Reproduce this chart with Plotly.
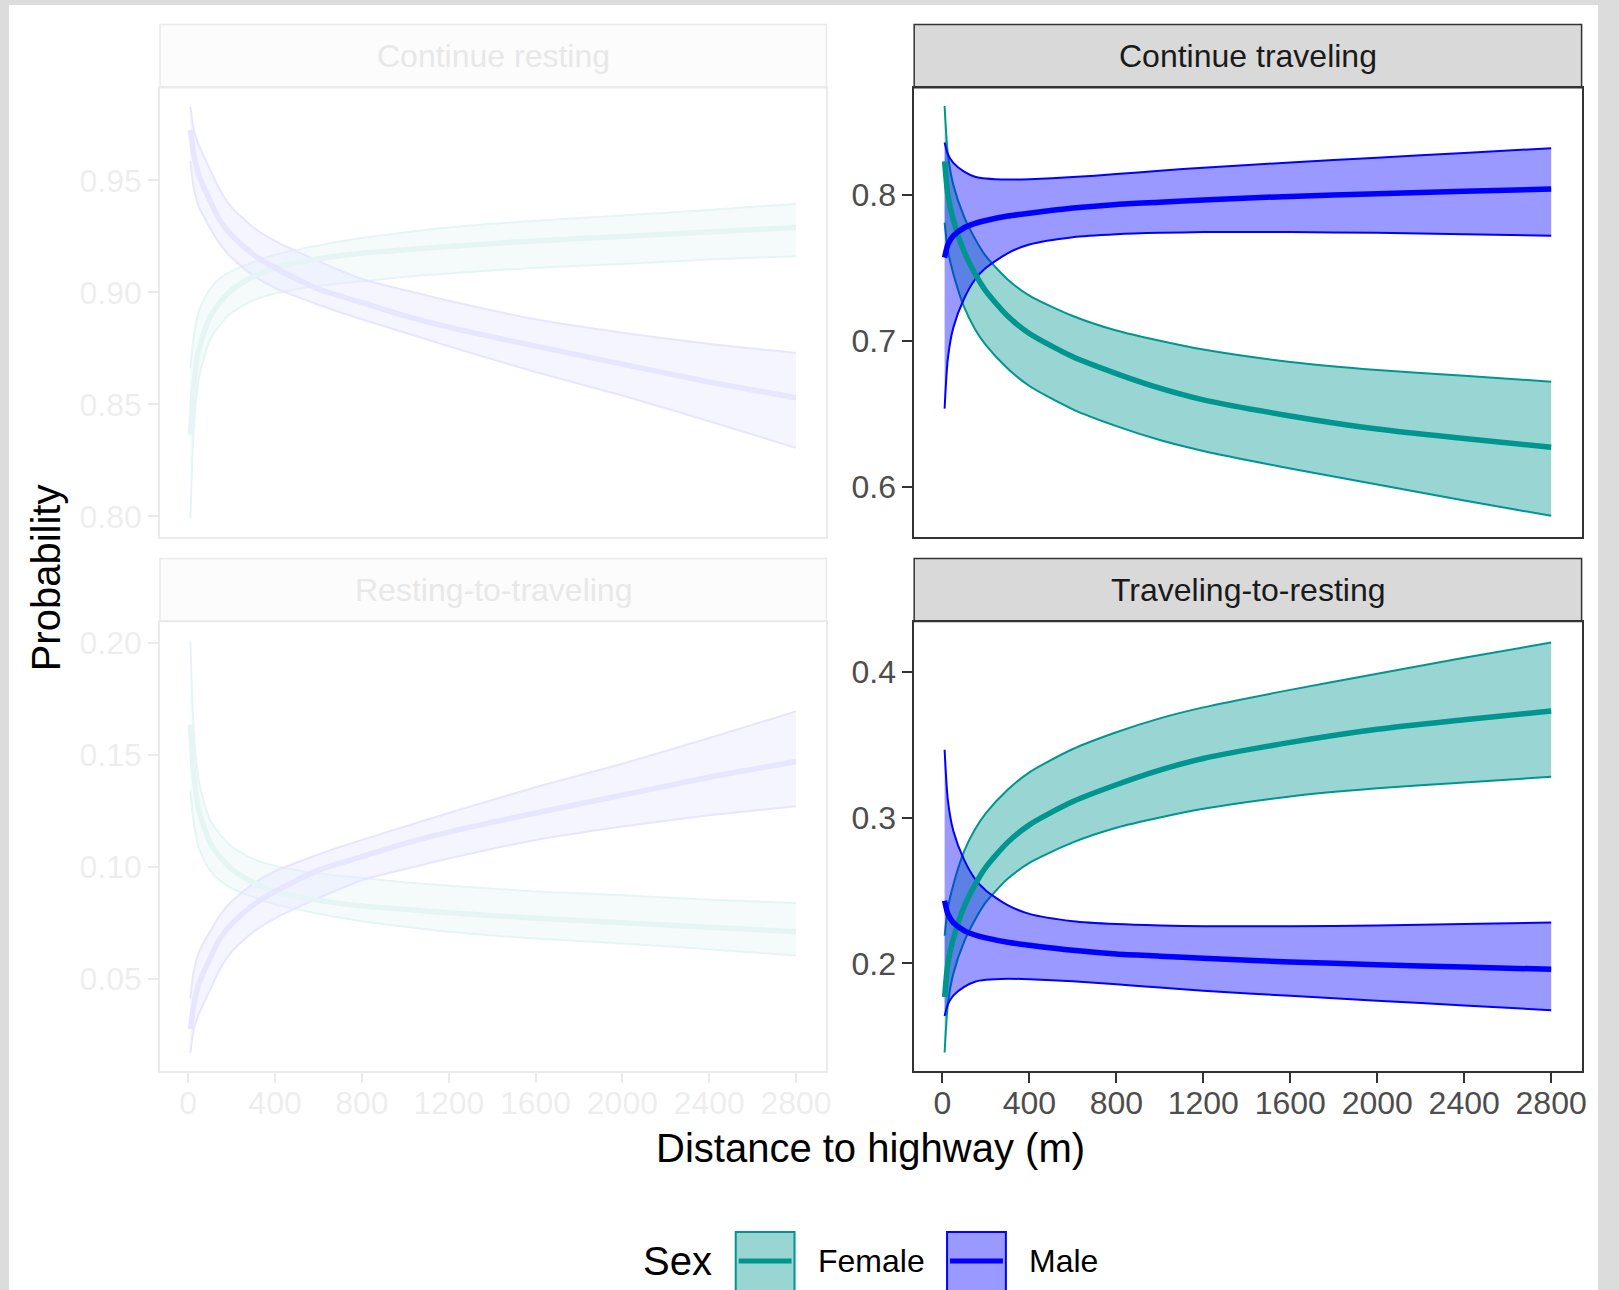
import plotly.graph_objects as go

W, H = 1619, 1290
FONT = "Liberation Sans, Arial, Helvetica, sans-serif"

# ---------------- data ----------------
DIST = [10, 25, 50, 100, 150, 200, 300, 400, 600, 800, 1000, 1200, 1600, 2000, 2400, 2800]
X_TICKS = [0, 400, 800, 1200, 1600, 2000, 2400, 2800]

PANEL_TITLES = ["Continue resting", "Continue traveling", "Resting-to-traveling", "Traveling-to-resting"]
SEXES = ["Female", "Male"]

# Continue resting
CR_FEMALE_MEAN = [0.8365, 0.858, 0.875, 0.889, 0.896, 0.901, 0.907, 0.911, 0.915, 0.9175, 0.919, 0.9205, 0.923, 0.925, 0.927, 0.929]
CR_FEMALE_LO = [0.7993, 0.838, 0.862, 0.879, 0.886, 0.891, 0.8965, 0.8995, 0.903, 0.905, 0.907, 0.9085, 0.911, 0.9127, 0.9147, 0.9162]
CR_FEMALE_HI = [0.8663, 0.880, 0.892, 0.9015, 0.9065, 0.9095, 0.9135, 0.9168, 0.921, 0.9243, 0.9268, 0.929, 0.932, 0.9343, 0.9368, 0.9396]
CR_MALE_MEAN = [0.9725, 0.962, 0.952, 0.941, 0.9315, 0.9255, 0.917, 0.911, 0.9015, 0.8955, 0.8895, 0.8845, 0.876, 0.868, 0.860, 0.853]
CR_MALE_LO = [0.9586, 0.947, 0.938, 0.929, 0.921, 0.9155, 0.9075, 0.902, 0.8945, 0.888, 0.882, 0.876, 0.8645, 0.854, 0.8425, 0.8306]
CR_MALE_HI = [0.983, 0.973, 0.9655, 0.955, 0.945, 0.938, 0.929, 0.923, 0.914, 0.906, 0.901, 0.8963, 0.888, 0.882, 0.877, 0.873]

# Continue traveling
CT_FEMALE_MEAN = [0.823, 0.800, 0.783, 0.761, 0.746, 0.734, 0.717, 0.705, 0.689, 0.6775, 0.6675, 0.6595, 0.6485, 0.6395, 0.633, 0.627]
CT_FEMALE_LO = [0.781, 0.762, 0.746, 0.723, 0.708, 0.697, 0.681, 0.669, 0.653, 0.6415, 0.632, 0.6245, 0.6125, 0.6015, 0.5905, 0.580]
CT_FEMALE_HI = [0.861, 0.828, 0.807, 0.785, 0.770, 0.758, 0.742, 0.731, 0.717, 0.707, 0.700, 0.694, 0.6855, 0.680, 0.676, 0.672]
CT_MALE_MEAN = [0.757, 0.766, 0.772, 0.7775, 0.7805, 0.7825, 0.7855, 0.7875, 0.791, 0.7935, 0.795, 0.7965, 0.799, 0.8008, 0.8025, 0.804]
CT_MALE_LO = [0.6535, 0.688, 0.709, 0.729, 0.742, 0.750, 0.760, 0.766, 0.771, 0.773, 0.774, 0.7745, 0.7745, 0.774, 0.773, 0.772]
CT_MALE_HI = [0.836, 0.828, 0.822, 0.816, 0.8125, 0.8112, 0.8105, 0.8108, 0.8122, 0.8143, 0.8165, 0.8187, 0.8222, 0.8255, 0.8288, 0.832]

# Resting-to-traveling
RT_FEMALE_MEAN = [0.1635, 0.142, 0.125, 0.111, 0.104, 0.099, 0.093, 0.089, 0.085, 0.0825, 0.081, 0.0795, 0.077, 0.075, 0.073, 0.071]
RT_FEMALE_LO = [0.1337, 0.120, 0.108, 0.0985, 0.0935, 0.0905, 0.0865, 0.0832, 0.079, 0.0757, 0.0732, 0.071, 0.068, 0.0657, 0.0632, 0.0604]
RT_FEMALE_HI = [0.2007, 0.162, 0.138, 0.121, 0.114, 0.109, 0.1035, 0.1005, 0.097, 0.095, 0.093, 0.0915, 0.089, 0.0873, 0.0853, 0.0838]
RT_MALE_MEAN = [0.0275, 0.038, 0.048, 0.059, 0.0685, 0.0745, 0.083, 0.089, 0.0985, 0.1045, 0.1105, 0.1155, 0.124, 0.132, 0.140, 0.147]
RT_MALE_LO = [0.017, 0.027, 0.0345, 0.045, 0.055, 0.062, 0.071, 0.077, 0.086, 0.094, 0.099, 0.1037, 0.112, 0.118, 0.123, 0.127]
RT_MALE_HI = [0.0414, 0.053, 0.062, 0.071, 0.079, 0.0845, 0.0925, 0.098, 0.1055, 0.112, 0.118, 0.124, 0.1355, 0.146, 0.1575, 0.1694]

# Traveling-to-resting
TR_FEMALE_MEAN = [0.177, 0.200, 0.217, 0.239, 0.254, 0.266, 0.283, 0.295, 0.311, 0.3225, 0.3325, 0.3405, 0.3515, 0.3605, 0.367, 0.373]
TR_FEMALE_LO = [0.139, 0.172, 0.193, 0.215, 0.230, 0.242, 0.258, 0.269, 0.283, 0.293, 0.300, 0.306, 0.3145, 0.320, 0.324, 0.328]
TR_FEMALE_HI = [0.219, 0.238, 0.254, 0.277, 0.292, 0.303, 0.319, 0.331, 0.347, 0.3585, 0.368, 0.3755, 0.3875, 0.3985, 0.4095, 0.420]
TR_MALE_MEAN = [0.243, 0.234, 0.228, 0.2225, 0.2195, 0.2175, 0.2145, 0.2125, 0.209, 0.2065, 0.205, 0.2035, 0.201, 0.1992, 0.1975, 0.196]
TR_MALE_LO = [0.164, 0.172, 0.178, 0.184, 0.1875, 0.1888, 0.1895, 0.1892, 0.1878, 0.1857, 0.1835, 0.1813, 0.1778, 0.1745, 0.1712, 0.168]
TR_MALE_HI = [0.3465, 0.312, 0.291, 0.271, 0.258, 0.250, 0.240, 0.234, 0.229, 0.227, 0.226, 0.2255, 0.2255, 0.226, 0.227, 0.228]

Y_TICKS_CR = [0.80, 0.85, 0.90, 0.95]
Y_TICKS_CT = [0.6, 0.7, 0.8]
Y_TICKS_RT = [0.05, 0.10, 0.15, 0.20]
Y_TICKS_TR = [0.2, 0.3, 0.4]

# ---------------- styling ----------------
FEMALE_LINE = "rgb(0,150,143)"
FEMALE_FILL = "rgba(0,150,143,0.4)"
MALE_LINE = "rgb(0,0,255)"
MALE_FILL = "rgba(0,0,255,0.4)"
FRAME = "#333333"
TICK_TEXT = "#4D4D4D"
STRIP_BG = "#D9D9D9"
FADED_TEXT = "#E8E8E8"


def fx(x):
    return x / W


def fy(y):
    return 1 - y / H


COLS = {"L": (160.5, 829.0), "R": (917.0, 1586.5)}
ROWS = {"T": (87.7, 537.0), "B": (621.6, 1071.0)}
STRIP_H = 63.2

panels = [
    (PANEL_TITLES[0], "L", "T", (CR_FEMALE_LO, CR_FEMALE_MEAN, CR_FEMALE_HI), (CR_MALE_LO, CR_MALE_MEAN, CR_MALE_HI),
     [0.7908, 0.9914], Y_TICKS_CR, ".2f", False, True),
    (PANEL_TITLES[1], "R", "T", (CT_FEMALE_LO, CT_FEMALE_MEAN, CT_FEMALE_HI), (CT_MALE_LO, CT_MALE_MEAN, CT_MALE_HI),
     [0.5655, 0.8735], Y_TICKS_CT, ".1f", False, False),
    (PANEL_TITLES[2], "L", "B", (RT_FEMALE_LO, RT_FEMALE_MEAN, RT_FEMALE_HI), (RT_MALE_LO, RT_MALE_MEAN, RT_MALE_HI),
     [0.0088, 0.2095], Y_TICKS_RT, ".2f", True, True),
    (PANEL_TITLES[3], "R", "B", (TR_FEMALE_LO, TR_FEMALE_MEAN, TR_FEMALE_HI), (TR_MALE_LO, TR_MALE_MEAN, TR_MALE_HI),
     [0.1263, 0.4343], Y_TICKS_TR, ".1f", True, False),
]

fig = go.Figure()
layout = {}
shapes = []
annotations = []

# white page over a light grey frame
shapes.append(dict(type="rect", xref="paper", yref="paper", x0=fx(9), x1=fx(1603), y0=fy(1295), y1=fy(5),
                   fillcolor="white", line=dict(width=0), layer="below"))

for i, (title, col, row, fem, mal, yr, yt, fmt, showx, faded) in enumerate(panels, start=1):
    xa = "x" if i == 1 else f"x{i}"
    ya = "y" if i == 1 else f"y{i}"
    common = dict(xaxis=xa, yaxis=ya, mode="lines", showlegend=False, hoverinfo="skip")
    for (lo, mean, hi), lc, fc in ((fem, FEMALE_LINE, FEMALE_FILL), (mal, MALE_LINE, MALE_FILL)):
        fig.add_trace(go.Scatter(x=DIST, y=lo, line=dict(color=lc, width=2, shape="spline", smoothing=0.7), **common))
        fig.add_trace(go.Scatter(x=DIST, y=hi, fill="tonexty", fillcolor=fc,
                                 line=dict(color=lc, width=2, shape="spline", smoothing=0.7), **common))
    for (lo, mean, hi), lc in ((fem, FEMALE_LINE), (mal, MALE_LINE)):
        fig.add_trace(go.Scatter(x=DIST, y=mean, line=dict(color=lc, width=5.5, shape="spline", smoothing=0.7), **common))

    cx0, cx1 = COLS[col]
    ry0, ry1 = ROWS[row]
    xkey = "xaxis" if i == 1 else f"xaxis{i}"
    ykey = "yaxis" if i == 1 else f"yaxis{i}"
    layout[xkey] = dict(
        domain=[fx(cx0), fx(cx1)], anchor=ya, range=[-130, 2940],
        tickvals=X_TICKS, ticktext=[str(v) for v in X_TICKS],
        ticks="outside" if showx else "", ticklen=10, tickwidth=1.5, tickcolor=FRAME,
        showticklabels=showx, tickfont=dict(size=32, color=TICK_TEXT, family=FONT),
        ticklabelstandoff=-7,
        showline=True, mirror=True, linecolor=FRAME, linewidth=1.5,
        showgrid=False, zeroline=False, fixedrange=True,
    )
    layout[ykey] = dict(
        domain=[fy(ry1), fy(ry0)], anchor=xa, range=yr,
        tickvals=yt, tickformat=fmt,
        ticks="outside", ticklen=10, tickwidth=1.5, tickcolor=FRAME,
        tickfont=dict(size=32, color=TICK_TEXT, family=FONT),
        ticklabelstandoff=0,
        showline=True, mirror=True, linecolor=FRAME, linewidth=1.5,
        showgrid=False, zeroline=False, fixedrange=True,
    )
    # strip
    shapes.append(dict(type="rect", xref="paper", yref="paper", x0=fx(cx0), x1=fx(cx1),
                       y0=fy(ry0), y1=fy(ry0 - STRIP_H), fillcolor=STRIP_BG,
                       line=dict(color=FRAME, width=1.5), layer="below"))
    annotations.append(dict(text=title, x=fx((cx0 + cx1) / 2), y=fy(ry0 - STRIP_H / 2), xref="paper", yref="paper",
                            xanchor="center", yanchor="middle", showarrow=False,
                            font=dict(size=32, color=FADED_TEXT if faded else "#1A1A1A", family=FONT)))

# fade the left column (as in the reference)
shapes.append(dict(type="rect", xref="paper", yref="paper", x0=fx(66), x1=fx(845), y0=fy(1122), y1=fy(14),
                   fillcolor="white", opacity=0.9, line=dict(width=0), layer="above"))

# axis titles
annotations.append(dict(text="Distance to highway (m)", x=fx(873), y=fy(1148), xref="paper", yref="paper",
                        xanchor="center", yanchor="middle", showarrow=False,
                        font=dict(size=40, color="black", family=FONT)))
annotations.append(dict(text="Probability", x=fx(46.5), y=fy(578), xref="paper", yref="paper",
                        xanchor="center", yanchor="middle", showarrow=False, textangle=-90,
                        font=dict(size=40, color="black", family=FONT)))

# legend (drawn manually, ggplot style)
LEG_Y = 1261
annotations.append(dict(text="Sex", x=fx(643), y=fy(LEG_Y), xref="paper", yref="paper",
                        xanchor="left", yanchor="middle", showarrow=False,
                        font=dict(size=40, color="black", family=FONT)))
for (kx0, kx1, tx, label, lc, fc) in ((738, 797, 819, SEXES[0], FEMALE_LINE, FEMALE_FILL),
                                       (950, 1009, 1030, SEXES[1], MALE_LINE, MALE_FILL)):
    shapes.append(dict(type="rect", xref="paper", yref="paper", x0=fx(kx0), x1=fx(kx1),
                       y0=fy(1292), y1=fy(1232), fillcolor=fc, line=dict(color=lc, width=2), layer="above"))
    shapes.append(dict(type="line", xref="paper", yref="paper", x0=fx(kx0 + 3), x1=fx(kx1 - 3),
                       y0=fy(LEG_Y), y1=fy(LEG_Y), line=dict(color=lc, width=5), layer="above"))
    annotations.append(dict(text=label, x=fx(tx), y=fy(LEG_Y), xref="paper", yref="paper",
                            xanchor="left", yanchor="middle", showarrow=False,
                            font=dict(size=32, color="black", family=FONT)))

fig.update_layout(
    width=W, height=H, autosize=False,
    margin=dict(l=0, r=0, t=0, b=0),
    paper_bgcolor="#DCDCDC", plot_bgcolor="white",
    font=dict(family=FONT),
    showlegend=False,
    shapes=shapes, annotations=annotations,
    **layout,
)

fig.write_html("out.html", include_plotlyjs=True, config={"displayModeBar": False})
